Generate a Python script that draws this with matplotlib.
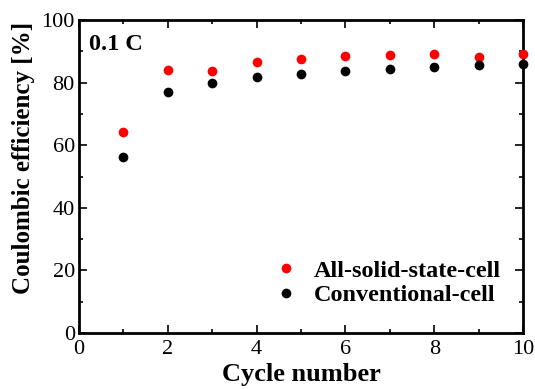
import matplotlib
matplotlib.use("Agg")
import matplotlib.pyplot as plt
from matplotlib.ticker import MultipleLocator

cycles = [1, 2, 3, 4, 5, 6, 7, 8, 9, 10]
solid_state = [64.1, 83.9, 83.7, 86.6, 87.6, 88.4, 88.8, 89.2, 88.3, 89.0]
conventional = [56.3, 77.1, 80.0, 81.7, 82.8, 83.6, 84.4, 85.1, 85.5, 85.8]

plt.rcParams["font.family"] = "Liberation Serif"

fig = plt.figure(figsize=(5.35, 3.89), dpi=100)
ax = fig.add_axes([79 / 535, 1 - 333 / 389, 444 / 535, 313 / 389])

ax.plot(cycles, solid_state, "o", color="red", markersize=7,
        markeredgewidth=0, clip_on=False, zorder=3, label="All-solid-state-cell")
ax.plot(cycles, conventional, "o", color="black", markersize=7,
        markeredgewidth=0, clip_on=False, zorder=3, label="Conventional-cell")

ax.set_xlim(0, 10)
ax.set_ylim(0, 100)
ax.xaxis.set_major_locator(MultipleLocator(2))
ax.xaxis.set_minor_locator(MultipleLocator(1))
ax.yaxis.set_major_locator(MultipleLocator(20))
ax.yaxis.set_minor_locator(MultipleLocator(10))
ax.tick_params(which="both", direction="in", top=True, right=True,
               labelsize=16, width=1.2)
ax.tick_params(which="major", length=6, pad=5)
ax.tick_params(which="minor", length=3)
ax.tick_params(axis="y", pad=3)
for s in ax.spines.values():
    s.set_linewidth(2)

ax.set_xlabel("Cycle number", fontsize=19, fontweight="bold", labelpad=3)
ax.set_ylabel("Coulombic efficiency [%]", fontsize=18, fontweight="bold")
ax.yaxis.set_label_coords(-0.1, 0.56)

ax.text(0.022, 0.955, "0.1 C", transform=ax.transAxes, fontsize=17.5,
        fontweight="bold", va="top", ha="left")

ax.legend(loc="lower right", frameon=False, prop={"size": 17.5, "weight": "bold"},
          handletextpad=0.65, labelspacing=0.1, borderaxespad=0.5,
          handlelength=1.0, bbox_to_anchor=(1.0, 0.016))

fig.savefig("out.png", dpi=100)
